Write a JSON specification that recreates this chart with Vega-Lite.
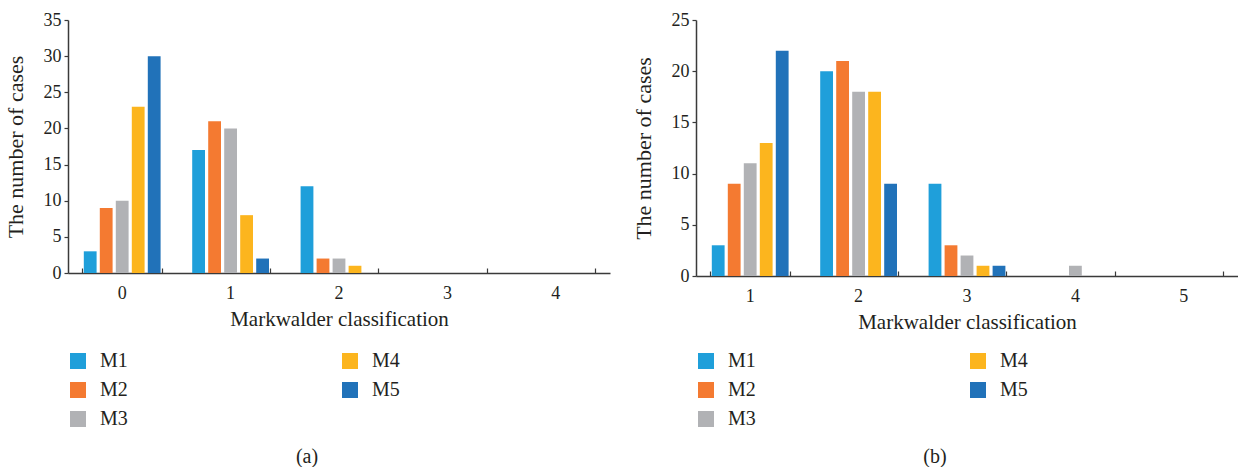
{
  "$schema": "https://vega.github.io/schema/vega-lite/v6.json",
  "padding": {"left": 4, "top": 11, "right": 0, "bottom": 0},
  "background": "white",
  "spacing": 22,
  "resolve": {"scale": {"color": "independent"}},
  "config": {
    "view": {"stroke": null},
    "font": "Liberation Serif",
    "axis": {
      "labelFont": "Liberation Serif",
      "titleFont": "Liberation Serif",
      "labelColor": "#231F20",
      "titleColor": "#231F20",
      "titleFontWeight": "normal",
      "labelFontSize": 18,
      "titleFontSize": 21,
      "domainColor": "#3a3a3a",
      "domainWidth": 1.5,
      "tickColor": "#3a3a3a",
      "tickWidth": 1.2,
      "grid": false
    },
    "legend": {
      "labelFont": "Liberation Serif",
      "labelColor": "#231F20",
      "labelFontSize": 20,
      "symbolType": "square",
      "symbolSize": 256,
      "symbolStrokeWidth": 0,
      "rowPadding": 9,
      "columnPadding": 212,
      "labelOffset": 12,
      "padding": 0
    },
    "title": {"font": "Liberation Serif", "fontSize": 20, "fontWeight": "normal", "color": "#231F20"}
  },
  "hconcat": [
    {
      "width": 542,
      "height": 253,
      "data": {"values": [
        {"cls": "0", "model": "M1", "n": 3},
        {"cls": "0", "model": "M2", "n": 9},
        {"cls": "0", "model": "M3", "n": 10},
        {"cls": "0", "model": "M4", "n": 23},
        {"cls": "0", "model": "M5", "n": 30},
        {"cls": "1", "model": "M1", "n": 17},
        {"cls": "1", "model": "M2", "n": 21},
        {"cls": "1", "model": "M3", "n": 20},
        {"cls": "1", "model": "M4", "n": 8},
        {"cls": "1", "model": "M5", "n": 2},
        {"cls": "2", "model": "M1", "n": 12},
        {"cls": "2", "model": "M2", "n": 2},
        {"cls": "2", "model": "M3", "n": 2},
        {"cls": "2", "model": "M4", "n": 1},
        {"cls": "2", "model": "M5", "n": 0},
        {"cls": "3", "model": "M1", "n": 0},
        {"cls": "3", "model": "M2", "n": 0},
        {"cls": "3", "model": "M3", "n": 0},
        {"cls": "3", "model": "M4", "n": 0},
        {"cls": "3", "model": "M5", "n": 0},
        {"cls": "4", "model": "M1", "n": 0},
        {"cls": "4", "model": "M2", "n": 0},
        {"cls": "4", "model": "M3", "n": 0},
        {"cls": "4", "model": "M4", "n": 0},
        {"cls": "4", "model": "M5", "n": 0}
      ]},
      "title": {"text": "(a)", "orient": "bottom", "frame": "bounds", "anchor": "middle", "offset": 18},
      "mark": {"type": "bar"},
      "encoding": {
        "x": {
          "field": "cls", "type": "nominal",
          "scale": {"paddingInner": 0.262, "paddingOuter": 0.131},
          "axis": {"title": "Markwalder classification", "labelAngle": 0, "bandPosition": 1, "tickExtra": true, "tickSize": -5, "labelPadding": 16, "titlePadding": 6}
        },
        "xOffset": {"field": "model", "type": "nominal", "scale": {"paddingInner": 0.2, "paddingOuter": 0.1}},
        "y": {
          "field": "n", "type": "quantitative",
          "scale": {"domain": [0, 35], "nice": false},
          "axis": {"title": "The number of cases", "titleFontSize": 22, "values": [0, 5, 10, 15, 20, 25, 30, 35], "tickSize": 4, "labelPadding": 3, "titlePadding": 16}
        },
        "color": {
          "field": "model", "type": "nominal",
          "scale": {"domain": ["M1", "M2", "M3", "M4", "M5"], "range": ["#1F9FDA", "#F47A31", "#B1B2B5", "#FCB51E", "#2172B9"]},
          "legend": {"title": null, "orient": "none", "legendX": 0, "legendY": 331, "columns": 2}
        }
      }
    },
    {
      "width": 542,
      "height": 256,
      "data": {"values": [
        {"cls": "1", "model": "M1", "n": 3},
        {"cls": "1", "model": "M2", "n": 9},
        {"cls": "1", "model": "M3", "n": 11},
        {"cls": "1", "model": "M4", "n": 13},
        {"cls": "1", "model": "M5", "n": 22},
        {"cls": "2", "model": "M1", "n": 20},
        {"cls": "2", "model": "M2", "n": 21},
        {"cls": "2", "model": "M3", "n": 18},
        {"cls": "2", "model": "M4", "n": 18},
        {"cls": "2", "model": "M5", "n": 9},
        {"cls": "3", "model": "M1", "n": 9},
        {"cls": "3", "model": "M2", "n": 3},
        {"cls": "3", "model": "M3", "n": 2},
        {"cls": "3", "model": "M4", "n": 1},
        {"cls": "3", "model": "M5", "n": 1},
        {"cls": "4", "model": "M1", "n": 0},
        {"cls": "4", "model": "M2", "n": 0},
        {"cls": "4", "model": "M3", "n": 1},
        {"cls": "4", "model": "M4", "n": 0},
        {"cls": "4", "model": "M5", "n": 0},
        {"cls": "5", "model": "M1", "n": 0},
        {"cls": "5", "model": "M2", "n": 0},
        {"cls": "5", "model": "M3", "n": 0},
        {"cls": "5", "model": "M4", "n": 0},
        {"cls": "5", "model": "M5", "n": 0}
      ]},
      "title": {"text": "(b)", "orient": "bottom", "frame": "bounds", "anchor": "middle", "offset": 18},
      "mark": {"type": "bar"},
      "encoding": {
        "x": {
          "field": "cls", "type": "nominal",
          "scale": {"paddingInner": 0.262, "paddingOuter": 0.131},
          "axis": {"title": "Markwalder classification", "labelAngle": 0, "bandPosition": 1, "tickExtra": true, "tickSize": -5, "labelPadding": 16, "titlePadding": 6}
        },
        "xOffset": {"field": "model", "type": "nominal", "scale": {"paddingInner": 0.2, "paddingOuter": 0.1}},
        "y": {
          "field": "n", "type": "quantitative",
          "scale": {"domain": [0, 25], "nice": false},
          "axis": {"title": "The number of cases", "titleFontSize": 22, "values": [0, 5, 10, 15, 20, 25], "tickSize": 4, "labelPadding": 3, "titlePadding": 16}
        },
        "color": {
          "field": "model", "type": "nominal",
          "scale": {"domain": ["M1", "M2", "M3", "M4", "M5"], "range": ["#1F9FDA", "#F47A31", "#B1B2B5", "#FCB51E", "#2172B9"]},
          "legend": {"title": null, "orient": "none", "legendX": 0, "legendY": 331, "columns": 2}
        }
      }
    }
  ]
}
